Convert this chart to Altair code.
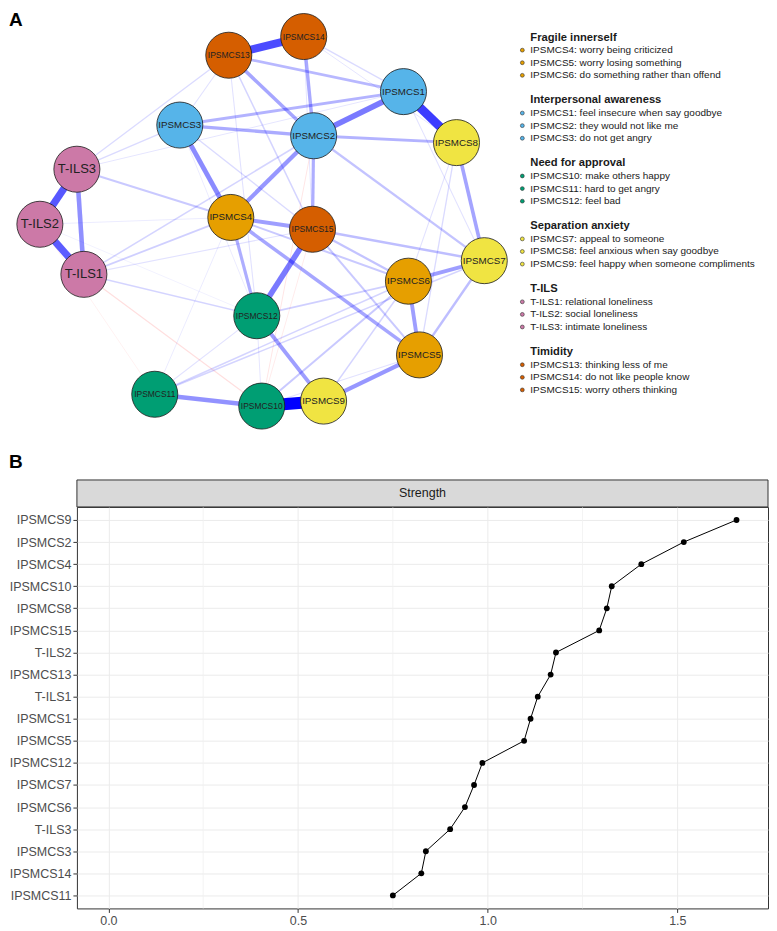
import altair as alt
import pandas as pd

# ---------------- Panel A: network ----------------
node_names = ["IPSMCS1", "IPSMCS2", "IPSMCS3", "IPSMCS4", "IPSMCS5", "IPSMCS6",
              "IPSMCS7", "IPSMCS8", "IPSMCS9", "IPSMCS10", "IPSMCS11", "IPSMCS12",
              "IPSMCS13", "IPSMCS14", "IPSMCS15", "T-ILS1", "T-ILS2", "T-ILS3"]
# layout coordinates (qgraph-style, roughly -1..1)
node_x = [0.615, 0.217, -0.376, -0.150, 0.686, 0.637, 0.973, 0.850, 0.261, -0.013,
          -0.487, -0.035, -0.159, 0.173, 0.212, -0.801, -0.996, -0.832]
node_y = [0.702, 0.463, 0.521, 0.021, -0.723, -0.324, -0.213, 0.426, -0.973, -1.000,
          -0.936, -0.511, 0.899, 1.000, -0.043, -0.287, -0.016, 0.282]
node_group = ["Interpersonal awareness", "Interpersonal awareness", "Interpersonal awareness",
              "Fragile innerself", "Fragile innerself", "Fragile innerself",
              "Separation anxiety", "Separation anxiety", "Separation anxiety",
              "Need for approval", "Need for approval", "Need for approval",
              "Timidity", "Timidity", "Timidity", "T-ILS", "T-ILS", "T-ILS"]

group_names = ["Fragile innerself", "Interpersonal awareness", "Need for approval",
               "Separation anxiety", "T-ILS", "Timidity"]
group_colors = ["#E69F00", "#56B4E9", "#009E73", "#F0E442", "#CC79A7", "#D55E00"]
group_items = [
    ["IPSMCS4: worry being criticized", "IPSMCS5: worry losing something",
     "IPSMCS6: do something rather than offend"],
    ["IPSMCS1: feel insecure when say goodbye", "IPSMCS2: they would not like me",
     "IPSMCS3: do not get angry"],
    ["IPSMCS10: make others happy", "IPSMCS11: hard to get angry", "IPSMCS12:  feel bad"],
    ["IPSMCS7: appeal to someone", "IPSMCS8: feel anxious when say goodbye",
     "IPSMCS9: feel happy when someone compliments"],
    ["T-ILS1: relational loneliness", "T-ILS2: social loneliness", "T-ILS3: intimate loneliness"],
    ["IPSMCS13: thinking less of me", "IPSMCS14: do not like people know",
     "IPSMCS15: worry others thinking"],
]

edge_from = ["IPSMCS9", "IPSMCS1", "IPSMCS13", "T-ILS2", "T-ILS1", "IPSMCS12", "IPSMCS1",
             "T-ILS1", "IPSMCS3", "IPSMCS10", "IPSMCS2", "IPSMCS5", "IPSMCS6", "IPSMCS5",
             "IPSMCS9", "IPSMCS4", "IPSMCS7", "IPSMCS4", "IPSMCS2", "IPSMCS2", "IPSMCS2",
             "IPSMCS2", "IPSMCS2", "IPSMCS1", "IPSMCS4", "IPSMCS1", "IPSMCS2", "IPSMCS7",
             "IPSMCS5", "IPSMCS6", "IPSMCS5", "IPSMCS4", "IPSMCS6", "IPSMCS7", "IPSMCS12",
             "T-ILS3", "T-ILS1", "T-ILS1", "T-ILS1", "T-ILS1", "T-ILS3", "T-ILS3", "T-ILS3",
             "IPSMCS11", "IPSMCS11", "IPSMCS13", "IPSMCS13", "IPSMCS14", "IPSMCS14",
             "IPSMCS8", "IPSMCS8", "IPSMCS3", "IPSMCS13", "IPSMCS10", "IPSMCS9", "IPSMCS14",
             "IPSMCS1", "IPSMCS11", "IPSMCS10", "T-ILS2", "T-ILS2", "IPSMCS3",
             "T-ILS1", "IPSMCS2", "IPSMCS15", "T-ILS2"]
edge_to = ["IPSMCS10", "IPSMCS8", "IPSMCS14", "T-ILS3", "T-ILS2", "IPSMCS15", "IPSMCS2",
           "T-ILS3", "IPSMCS4", "IPSMCS11", "IPSMCS4", "IPSMCS9", "IPSMCS7", "IPSMCS6",
           "IPSMCS12", "IPSMCS15", "IPSMCS8", "IPSMCS5", "IPSMCS3", "IPSMCS13", "IPSMCS14",
           "IPSMCS15", "IPSMCS8", "IPSMCS3", "IPSMCS12", "IPSMCS13", "IPSMCS7", "IPSMCS15",
           "IPSMCS7", "IPSMCS15", "IPSMCS15", "IPSMCS6", "IPSMCS10", "IPSMCS11", "IPSMCS6",
           "IPSMCS4", "IPSMCS4", "IPSMCS2", "IPSMCS12", "IPSMCS15", "IPSMCS13", "IPSMCS3",
           "IPSMCS1", "IPSMCS6", "IPSMCS12", "IPSMCS15", "IPSMCS3", "IPSMCS1", "IPSMCS8",
           "IPSMCS5", "IPSMCS6", "IPSMCS15", "IPSMCS12", "IPSMCS5", "IPSMCS6", "IPSMCS15",
           "IPSMCS7", "IPSMCS4", "IPSMCS12", "IPSMCS4", "IPSMCS12", "IPSMCS12",
           "IPSMCS10", "IPSMCS10", "IPSMCS10", "IPSMCS11"]
edge_weight = [1.00, 0.72, 0.65, 0.60, 0.58, 0.45, 0.45,
               0.36, 0.38, 0.35, 0.33, 0.33, 0.30, 0.30,
               0.30, 0.30, 0.28, 0.27, 0.25, 0.27, 0.26,
               0.24, 0.22, 0.22, 0.24, 0.20, 0.16, 0.18,
               0.18, 0.16, 0.14, 0.14, 0.14, 0.10, 0.12,
               0.14, 0.12, 0.10, 0.10, 0.06, 0.08, 0.08, 0.05,
               0.10, 0.06, 0.10, 0.06, 0.08, 0.05,
               0.08, 0.06, 0.08, 0.06, 0.06, 0.10, 0.05,
               0.06, 0.04, 0.05, 0.04, 0.03, 0.04,
               -0.07, -0.05, -0.04, -0.03]

# ---------------- Panel B: strength ----------------
strength_nodes = ["IPSMCS9", "IPSMCS2", "IPSMCS4", "IPSMCS10", "IPSMCS8", "IPSMCS15",
                  "T-ILS2", "IPSMCS13", "T-ILS1", "IPSMCS1", "IPSMCS5", "IPSMCS12",
                  "IPSMCS7", "IPSMCS6", "T-ILS3", "IPSMCS3", "IPSMCS14", "IPSMCS11"]
strength_values = [1.656, 1.517, 1.405, 1.327, 1.314, 1.294,
                   1.180, 1.166, 1.132, 1.113, 1.096, 0.986,
                   0.964, 0.940, 0.901, 0.837, 0.825, 0.750]
strength_ticks = [0.0, 0.5, 1.0, 1.5]
strength_minor = [0.25, 0.75, 1.25]
panel_measure = ["Strength"]

FONT = "Liberation Sans"
TOP_W, TOP_H = 692, 467
BOT_W, BOT_H = 692, 402

# ---------- tables ----------
pos_x = dict(zip(node_names, node_x))
pos_y = dict(zip(node_names, node_y))
edges = pd.DataFrame({"a": edge_from, "b": edge_to, "w": edge_weight})
edges["x1"] = edges["a"].map(pos_x)
edges["y1"] = edges["a"].map(pos_y)
edges["x2"] = edges["b"].map(pos_x)
edges["y2"] = edges["b"].map(pos_y)
edges["absw"] = edges["w"].abs()
edges["sign"] = ["pos" if v > 0 else "neg" for v in edges["w"]]
edges = edges.sort_values("absw").reset_index(drop=True)
edges["ord"] = range(len(edges))

nodes = pd.DataFrame({"node": node_names, "lx": node_x, "ly": node_y, "group": node_group})

leg_rows = []
for gi, (g, items) in enumerate(zip(group_names, group_items)):
    leg_rows.append({"text": g, "row": gi * 5, "kind": "header", "group": g})
    for ii, t in enumerate(items):
        leg_rows.append({"text": t, "row": gi * 5 + ii + 1, "kind": "item", "group": g})
legend_df = pd.DataFrame(leg_rows)

# chart y = 212 - 185*ly ; legend chart y = 28 + 12.6*row
y_lo = (212 - TOP_H) / 185.0
xs = alt.Scale(domain=[-0.8319, 2.2301], nice=False, zero=False)
ys = alt.Scale(domain=[y_lo, 1.1459], nice=False, zero=False)
ls = alt.Scale(domain=[-2.2222, -2.2222 + TOP_H / 12.6], nice=False, zero=False, reverse=True)
fs_scale = alt.Scale(domain=group_names, range=group_colors)

edge_layer = alt.Chart(edges).mark_rule(strokeCap="butt").encode(
    x=alt.X("x1:Q", scale=xs, axis=None),
    y=alt.Y("y1:Q", scale=ys, axis=None),
    x2="x2:Q",
    y2="y2:Q",
    color=alt.Color("sign:N", scale=alt.Scale(domain=["pos", "neg"], range=["#0000FF", "#FF0000"]),
                    legend=None),
    strokeWidth=alt.StrokeWidth("absw:Q", scale=alt.Scale(domain=[0, 1], range=[0.4, 12]), legend=None),
    opacity=alt.Opacity("absw:Q", scale=alt.Scale(type="pow", exponent=0.85, domain=[0, 1], range=[0.03, 1]),
                        legend=None),
    order=alt.Order("ord:Q"),
)

node_layer = alt.Chart(nodes).mark_circle(size=2124, stroke="#1A1A1A", strokeWidth=0.8, opacity=1).encode(
    x=alt.X("lx:Q", scale=xs, axis=None),
    y=alt.Y("ly:Q", scale=ys, axis=None),
    fill=alt.Fill("group:N", scale=fs_scale, legend=None),
)

label_layer = alt.Chart(nodes).transform_calculate(
    fs="length(datum.node) >= 8 ? 8.5 : (indexof(datum.node, 'T-ILS') == 0 ? 13 : 9.8)"
).mark_text(color="#222222", font=FONT, baseline="middle", align="center").encode(
    x=alt.X("lx:Q", scale=xs, axis=None),
    y=alt.Y("ly:Q", scale=ys, axis=None),
    text="node:N",
    size=alt.Size("fs:Q", scale=None),
)

legend_base = alt.Chart(legend_df)
leg_dots = legend_base.transform_filter("datum.kind == 'item'").mark_circle(
    size=15, stroke="#333333", strokeWidth=0.6, opacity=1).encode(
    x=alt.value(446),
    y=alt.Y("row:Q", scale=ls, axis=None),
    fill=alt.Fill("group:N", scale=fs_scale, legend=None),
)
leg_items = legend_base.transform_filter("datum.kind == 'item'").mark_text(
    align="left", baseline="middle", fontSize=10, font=FONT, color="#1A1A1A").encode(
    x=alt.value(454),
    y=alt.Y("row:Q", scale=ls, axis=None),
    text="text:N",
)
leg_heads = legend_base.transform_filter("datum.kind == 'header'").mark_text(
    align="left", baseline="middle", fontSize=11.2, fontWeight="bold", font=FONT, color="#1A1A1A").encode(
    x=alt.value(454),
    y=alt.Y("row:Q", scale=ls, axis=None),
    text="text:N",
)

panel_labels = pd.DataFrame({"lab": ["A", "B"]})
lab_a = alt.Chart(panel_labels).transform_filter("datum.lab == 'A'").mark_text(
    align="left", baseline="alphabetic", fontSize=19, fontWeight="bold", font=FONT, color="black").encode(
    x=alt.value(-68), y=alt.value(16), text="lab:N")
lab_b = alt.Chart(panel_labels).transform_filter("datum.lab == 'B'").mark_text(
    align="left", baseline="alphabetic", fontSize=19, fontWeight="bold", font=FONT, color="black").encode(
    x=alt.value(-68), y=alt.value(459), text="lab:N")

network = alt.layer(edge_layer, node_layer, label_layer)
top = alt.layer(network, leg_dots, leg_items, leg_heads, lab_a, lab_b).resolve_scale(
    y="independent").properties(width=TOP_W, height=TOP_H,
                                view=alt.ViewBackground(stroke="transparent"))

# ---------- bottom chart ----------
sdf = pd.DataFrame({"node": strength_nodes, "value": strength_values,
                    "rank": list(range(len(strength_nodes)))})
sx = alt.Scale(domain=[-0.083, 1.739], nice=False, zero=False)
sy = alt.Scale(type="point", domain=strength_nodes, padding=0.59)
x_axis = alt.Axis(values=strength_ticks, format=".1f", grid=True, gridColor="#EBEBEB", gridWidth=1,
                  domain=False, ticks=True, tickColor="#333333", tickSize=4, labelFontSize=12.5,
                  labelColor="#4D4D4D", labelPadding=2, title=None, labelFont=FONT)
y_axis = alt.Axis(grid=True, gridColor="#EBEBEB", gridWidth=1, domain=False, ticks=True,
                  tickColor="#333333", tickSize=4, labelFontSize=12.5, labelColor="#4D4D4D",
                  labelPadding=2, title=None, labelFont=FONT)

minor_layer = alt.Chart(pd.DataFrame({"value": strength_minor})).mark_rule(
    color="#F0F0F0", strokeWidth=0.8).encode(x=alt.X("value:Q", scale=sx, axis=x_axis))
sbase = alt.Chart(sdf).encode(
    x=alt.X("value:Q", scale=sx, axis=x_axis),
    y=alt.Y("node:N", scale=sy, axis=y_axis, sort=strength_nodes),
)
s_line = sbase.mark_line(color="black", strokeWidth=1).encode(order=alt.Order("rank:Q"))
s_pts = sbase.mark_circle(size=34, color="black", opacity=1)

strip_df = pd.DataFrame({"measure": panel_measure})
strip_rect = alt.Chart(strip_df).mark_rect(fill="#D9D9D9", stroke="#333333", strokeWidth=1).encode(
    x=alt.value(0), x2=alt.value(BOT_W), y=alt.value(-27), y2=alt.value(0))
strip_text = alt.Chart(strip_df).mark_text(fontSize=12.5, font=FONT, color="#1A1A1A",
                                           baseline="middle", align="center").encode(
    x=alt.value(BOT_W / 2), y=alt.value(-13.5), text="measure:N")
spacer = alt.Chart(strip_df).mark_rule(strokeOpacity=0).encode(
    x=alt.value(-68), x2=alt.value(0), y=alt.value(0))

bottom = alt.layer(minor_layer, s_line, s_pts, strip_rect, strip_text, spacer).properties(
    width=BOT_W, height=BOT_H, view=alt.ViewBackground(stroke="#333333", strokeWidth=1))

chart = alt.vconcat(top, bottom, spacing=2, padding=0).configure(font=FONT)

chart.save("out.html", embed_options={"renderer": "svg", "actions": False})
